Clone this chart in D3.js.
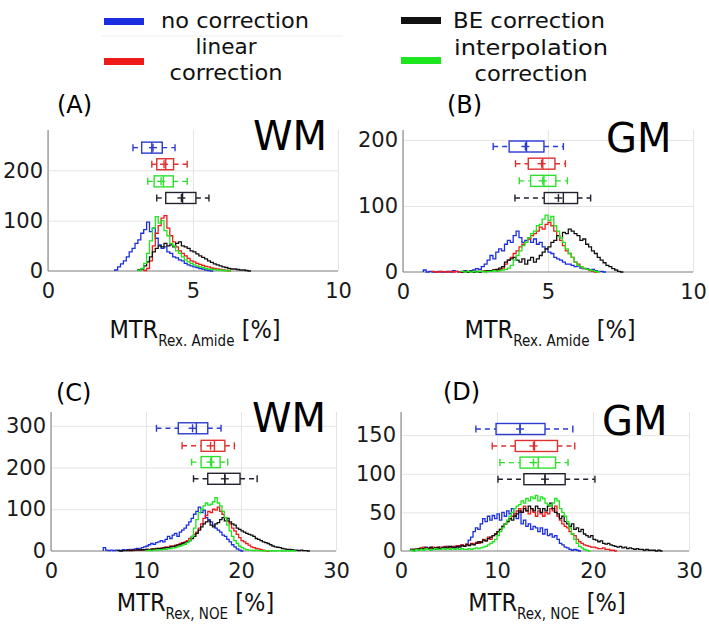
<!DOCTYPE html>
<html>
<head>
<meta charset="utf-8">
<script src="https://cdn.jsdelivr.net/npm/d3@7"></script>
<style>
  body { margin: 0; background: #fff; }
  svg { display: block; }
  .grid line { stroke: #e4e4e4; stroke-width: 1; }
  .grid path { display: none; }
  .tick text { font-family: "DejaVu Sans", sans-serif; font-size: 21px; fill: #1a1a1a; }
  .axis path, .axis line { display: none; }
  .narrow { font-family: "Liberation Sans Narrow", "DejaVu Sans Condensed", "Roboto Condensed", sans-serif; fill: #111; }
</style>
</head>
<body>
<div id="chart"></div>
<script>
// series order: no correction, linear, interpolation, BE
var seriesNames = ["no correction", "linear correction", "interpolation correction", "BE correction"];
var lineColors = ["#1c2fe0", "#f01a1a", "#1ee61e", "#111111"];
var boxColors = ["#2b3bd0", "#e03030", "#2ee02e", "#22222e"];

// tick labels
var xTicksAmide = [0, 5, 10];
var xTicksNoe = [0, 10, 20, 30];
var yTicksA = [0, 100, 200];
var yTicksB = [0, 100, 200];
var yTicksC = [0, 100, 200, 300];
var yTicksD = [0, 50, 100, 150];

// ---- histograms: start value of first bin + counts ----
// (A) WM amide, bin 0.1
var binA = 0.1;
var startA = [2.3, 3.3, 3.1, 3.1];
var histA_none = [2,8,14,20,28,38,45,55,62,75,82,97,78,85,65,52,45,48,38,35,28,26,22,20,15,12,10,8,7,5,4,2,1,0];
var histA_lin = [1,5,20,50,75,90,105,110,85,70,58,48,40,35,30,25,20,18,15,13,11,9,8,6,5,4,3,2,1,0];
var histA_int = [1,5,15,35,60,85,108,95,100,80,70,55,50,40,35,28,22,18,15,12,10,8,7,5,4,3,3,2,2,1,1,0];
var histA_be = [2,4,10,18,28,38,45,50,48,55,50,52,48,55,58,50,48,45,40,38,34,30,27,24,20,17,14,12,10,8,7,5,4,4,3,2,2,1,0];

// (B) GM amide, bin 0.1
var binB = 0.1;
var startB = [0.7, 1.0, 2.0, 2.0];
var histB_none = [3,0,1,0,0,1,0,0,1,0,2,1,0,1,2,1,2,3,5,4,8,12,18,25,20,30,35,32,42,48,45,55,62,52,45,48,52,45,50,42,45,38,35,30,28,22,20,18,15,12,12,10,8,9,6,5,5,3,4,2,1,1,0];
var histB_lin = [1,0,0,1,0,0,1,0,1,0,0,1,0,1,1,0,1,1,2,1,2,3,2,4,6,12,18,22,28,32,38,42,45,50,55,58,62,68,65,72,75,70,62,55,48,40,32,28,22,15,12,8,5,4,2,1,0];
var histB_int = [1,0,1,0,1,0,1,1,0,1,1,2,1,2,3,4,6,10,18,25,32,40,45,52,58,62,70,72,80,86,78,84,70,62,52,45,35,28,22,15,10,8,6,4,3,2,1,0];
var histB_be = [0,1,0,1,0,1,0,1,1,2,2,3,4,6,8,15,18,20,22,18,15,20,12,18,22,15,20,25,30,35,38,45,48,55,52,60,58,65,62,58,55,48,50,42,38,32,28,22,18,14,10,8,5,3,1,0];

// (C) WM NOE, bin 0.25
var binC = 0.25;
var startC = [5.5, 8.0, 10.0, 7.0];
var histC_none = [8,2,1,2,1,2,2,1,3,2,3,4,3,5,6,5,8,10,12,15,18,16,20,22,25,22,28,35,30,38,42,35,45,50,55,62,70,78,88,95,105,92,98,80,75,70,62,55,50,45,38,35,28,22,15,10,5,2,0];
var histC_lin = [1,2,1,2,2,3,2,3,4,3,5,4,6,5,7,8,10,9,12,11,14,15,18,20,22,25,30,35,40,45,55,65,78,85,95,92,100,98,105,95,88,80,72,65,55,48,40,32,25,22,18,14,10,8,6,5,3,2,1,0];
var histC_int = [1,2,1,2,2,3,3,4,4,5,6,7,8,10,12,14,16,20,25,35,55,75,92,100,108,115,110,112,118,128,115,108,95,80,62,48,35,25,18,12,8,5,3,2,2,1,2,1,1,0,1,1,0,1,0,1,1,0,0,1,0,1,0];
var histC_be = [1,0,1,1,2,1,2,2,3,2,3,3,4,3,4,5,5,6,6,7,8,8,10,11,12,14,15,18,20,22,25,30,35,42,50,58,65,70,72,62,58,65,68,75,80,72,78,70,65,62,55,52,48,45,42,40,38,35,30,28,25,22,20,18,15,12,10,9,8,6,5,4,4,3,2,2,1,2,1,1,0];

// (D) GM NOE, bin 0.25
var binD = 0.25;
var startD = [1.0, 1.0, 1.0, 1.0];
var histD_none = [2,1,3,2,4,3,5,2,4,3,2,4,3,5,4,6,5,4,6,5,7,8,6,9,14,18,25,30,28,35,42,38,45,40,46,42,48,40,50,45,52,48,55,45,42,50,35,40,32,35,28,32,30,25,30,22,28,20,22,18,20,15,10,8,5,4,2,1,2,1,0];
var histD_lin = [1,2,3,2,4,5,3,4,3,5,4,3,5,4,6,5,4,6,5,7,6,8,7,9,8,10,9,11,10,12,15,13,18,15,20,22,25,28,32,35,38,42,45,48,52,55,50,58,52,48,55,50,45,52,48,45,50,48,55,52,58,45,40,35,32,30,25,22,20,15,12,10,8,7,6,5,5,4,3,3,4,2,2,1,1,0];
var histD_int = [1,0,2,1,2,1,3,2,1,2,3,2,2,3,2,3,2,3,2,3,2,3,2,2,3,2,3,4,3,4,5,6,8,10,12,15,20,25,30,35,40,45,50,55,58,60,65,62,68,65,70,68,72,65,70,68,62,60,58,62,68,65,55,50,45,38,30,22,15,10,6,4,2,1,0];
var histD_be = [2,1,2,3,2,3,4,3,5,3,4,5,3,4,5,4,6,5,4,6,5,7,6,8,7,9,8,10,12,11,14,13,16,18,20,22,25,28,32,35,38,42,40,45,48,52,50,55,52,58,55,52,58,55,50,55,52,58,62,55,50,48,42,45,38,35,32,35,28,30,25,28,22,20,18,20,15,14,12,13,10,9,10,8,7,6,5,6,4,5,3,4,3,2,3,2,2,1,2,1,1,1,0,1,0];

// ---- box plots: [lower whisker, q1, median, q3, upper whisker, mean] ----
var boxA = [[2.93,3.23,3.58,3.94,4.38,3.62],[3.58,3.75,4.06,4.33,4.8,4.0],[3.44,3.66,3.98,4.32,4.8,3.9],[3.75,4.06,4.64,5.1,5.55,4.6]];
var boxRowsA = [245, 212, 178, 145];
var boxB = [[3.11,3.66,4.26,4.86,5.53,4.22],[3.88,4.32,4.82,5.24,5.6,4.78],[4.01,4.4,4.86,5.27,5.67,4.82],[3.86,4.87,5.53,6.02,6.47,5.36]];
var boxRowsB = [190, 164, 138, 112];
var boxC = [[11.1,13.4,15.3,16.5,17.9,14.9],[13.8,15.8,17.2,18.3,19.3,16.8],[14.8,15.8,16.9,17.8,18.6,16.8],[15.0,16.5,18.3,19.9,21.7,18.3]];
var boxRowsC = [294, 252, 213, 173];
var boxD = [[7.8,9.9,12.4,15.0,17.9,12.4],[9.5,11.9,13.9,16.3,18.1,13.8],[10.3,12.4,14.3,16.1,17.4,13.8],[10.1,12.8,15.0,17.1,20.2,15.0]];
var boxRowsD = [158, 136, 114.5, 93];

var svg = d3.select("#chart").append("svg")
    .attr("width", 709)
    .attr("height", 624);

// legend
var legend = [
    { i: 0, sx: 104, sy: 21, lines: ["no correction"], w: [148], tx: 161, ty: [28], anchor: "start" },
    { i: 1, sx: 104, sy: 61, lines: ["linear", "correction"], w: [61, 113], tx: 226, ty: [54, 80], anchor: "middle" },
    { i: 3, sx: 401, sy: 20, lines: ["BE correction"], w: [152], tx: 453, ty: [28], anchor: "start" },
    { i: 2, sx: 401, sy: 60, lines: ["interpolation", "correction"], w: [154, 113], tx: 531, ty: [55, 81], anchor: "middle" }
];
svg.append("line").attr("x1", 101).attr("x2", 343).attr("y1", 36).attr("y2", 36)
    .attr("stroke", "#eeeeee");
legend.forEach(function (d) {
    svg.append("rect")
        .attr("x", d.sx).attr("y", d.sy - 3)
        .attr("width", 40).attr("height", 7)
        .attr("fill", lineColors[d.i]);
    d.lines.forEach(function (t, k) {
        svg.append("text")
            .attr("class", "narrow")
            .attr("x", d.tx).attr("y", d.ty[k])
            .attr("text-anchor", d.anchor)
            .attr("textLength", d.w[k])
            .attr("lengthAdjust", "spacingAndGlyphs")
            .style("font-size", "22px")
            .text(t);
    });
});

function drawPanel(p) {
    var x = d3.scaleLinear().domain([0, p.xMax]).range([p.left, p.right]);
    var y = d3.scaleLinear().domain([0, p.yMax]).range([p.bottom, p.top]);
    var g = svg.append("g");

    // grid
    g.append("g").attr("class", "grid")
        .attr("transform", "translate(0," + p.top + ")")
        .call(d3.axisBottom(x).tickValues(p.xTicks).tickSize(p.bottom - p.top).tickFormat(""));
    g.append("g").attr("class", "grid")
        .attr("transform", "translate(" + p.left + ",0)")
        .call(d3.axisLeft(y).tickValues(p.yTicks.slice(1)).tickSize(-(p.right - p.left)).tickFormat(""));

    // axes
    g.append("g").attr("class", "axis")
        .attr("transform", "translate(0," + p.bottom + ")")
        .call(d3.axisBottom(x).tickValues(p.xTicks).tickSize(0).tickPadding(12));
    g.append("g").attr("class", "axis")
        .attr("transform", "translate(" + p.left + ",0)")
        .call(d3.axisLeft(y).tickValues(p.yTicks).tickSize(0).tickPadding(5));
    g.append("line").attr("x1", p.left).attr("x2", p.left).attr("y1", p.top).attr("y2", p.bottom)
        .attr("stroke", "#7a7a7a");
    g.append("line").attr("x1", p.left).attr("x2", p.right).attr("y1", p.bottom).attr("y2", p.bottom)
        .attr("stroke", "#7a7a7a");

    // histograms
    var line = d3.line()
        .x(function (d) { return x(d[0]); })
        .y(function (d) { return y(d[1]); })
        .curve(d3.curveStepAfter);
    [0, 1, 3, 2].forEach(function (i) {
        var counts = p.hists[i];
        var pts = [[p.starts[i], 0]];
        counts.forEach(function (c, k) { pts.push([p.starts[i] + k * p.bin, c]); });
        pts.push([p.starts[i] + counts.length * p.bin, 0]);
        g.append("path")
            .attr("d", line(pts))
            .attr("fill", "none")
            .attr("stroke", lineColors[i])
            .attr("stroke-width", 1.3);
    });

    // box plots
    var bh = 5.5;
    p.boxes.forEach(function (b, i) {
        var cy = y(p.rows[i]);
        var col = boxColors[i];
        var bg = g.append("g").attr("stroke", col).attr("fill", "none").attr("stroke-width", 1.4);
        bg.append("line").attr("x1", x(b[0])).attr("x2", x(b[1])).attr("y1", cy).attr("y2", cy)
            .attr("stroke-dasharray", "5,4");
        bg.append("line").attr("x1", x(b[3])).attr("x2", x(b[4])).attr("y1", cy).attr("y2", cy)
            .attr("stroke-dasharray", "5,4");
        [b[0], b[4]].forEach(function (v) {
            bg.append("line").attr("x1", x(v)).attr("x2", x(v)).attr("y1", cy - 3.5).attr("y2", cy + 3.5);
        });
        bg.append("rect").attr("x", x(b[1])).attr("y", cy - bh)
            .attr("width", x(b[3]) - x(b[1])).attr("height", 2 * bh);
        bg.append("line").attr("x1", x(b[2])).attr("x2", x(b[2])).attr("y1", cy - bh).attr("y2", cy + bh);
        bg.append("line").attr("x1", x(b[5]) - 4).attr("x2", x(b[5]) + 4).attr("y1", cy).attr("y2", cy);
        bg.append("line").attr("x1", x(b[5])).attr("x2", x(b[5])).attr("y1", cy - 4).attr("y2", cy + 4);
    });

    // panel letter and tissue
    svg.append("text").attr("x", p.letterX).attr("y", p.letterY)
        .style("font-family", "DejaVu Sans, sans-serif").style("font-size", "24px")
        .text(p.letter);
    svg.append("text").attr("x", p.tissueX).attr("y", p.tissueY)
        .style("font-family", "DejaVu Sans, sans-serif").style("font-size", "40px")
        .text(p.tissue);

    // x label
    var lab = svg.append("text").attr("class", "narrow")
        .attr("x", (p.left + p.right) / 2 + 2).attr("y", p.labelY)
        .attr("text-anchor", "middle")
        .style("font-size", "25px");
    lab.append("tspan").text("MTR");
    lab.append("tspan").attr("dy", 8).style("font-size", "15px").text(p.sub);
    lab.append("tspan").attr("dy", -8).text(" [%]");
}

drawPanel({ left: 48, right: 338, top: 130, bottom: 271, xMax: 10, yMax: 280,
    xTicks: xTicksAmide, yTicks: yTicksA, bin: binA, starts: startA,
    hists: [histA_none, histA_lin, histA_int, histA_be], boxes: boxA, rows: boxRowsA,
    letter: "(A)", letterX: 57, letterY: 113, tissue: "WM", tissueX: 253, tissueY: 150,
    sub: "Rex. Amide", labelY: 338 });
drawPanel({ left: 403, right: 693, top: 130, bottom: 272, xMax: 10, yMax: 215,
    xTicks: xTicksAmide, yTicks: yTicksB, bin: binB, starts: startB,
    hists: [histB_none, histB_lin, histB_int, histB_be], boxes: boxB, rows: boxRowsB,
    letter: "(B)", letterX: 447, letterY: 113, tissue: "GM", tissueX: 606, tissueY: 152,
    sub: "Rex. Amide", labelY: 338 });
drawPanel({ left: 51, right: 336, top: 412, bottom: 551, xMax: 30, yMax: 333,
    xTicks: xTicksNoe, yTicks: yTicksC, bin: binC, starts: startC,
    hists: [histC_none, histC_lin, histC_int, histC_be], boxes: boxC, rows: boxRowsC,
    letter: "(C)", letterX: 56, letterY: 401, tissue: "WM", tissueX: 252, tissueY: 432,
    sub: "Rex, NOE", labelY: 611 });
drawPanel({ left: 401, right: 689, top: 412, bottom: 551, xMax: 30, yMax: 180,
    xTicks: xTicksNoe, yTicks: yTicksD, bin: binD, starts: startD,
    hists: [histD_none, histD_lin, histD_int, histD_be], boxes: boxD, rows: boxRowsD,
    letter: "(D)", letterX: 443, letterY: 400, tissue: "GM", tissueX: 602, tissueY: 435,
    sub: "Rex, NOE", labelY: 611 });
</script>
</body>
</html>
